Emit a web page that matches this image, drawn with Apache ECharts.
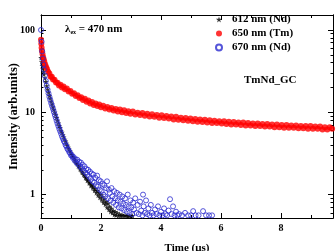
<!DOCTYPE html>
<html>
<head>
<meta charset="utf-8">
<script src="https://cdn.jsdelivr.net/npm/echarts@6/dist/echarts.min.js"></script>
<style>
    html, body { margin: 0; padding: 0; background: #fff; }
    #chart { width: 336px; height: 251px; }
</style>
</head>
<body>
<div id="chart"></div>
<script>
// decay curves, [time (us), intensity]
var nd612 = [
    [0, 46], [0.02, 41], [0.04, 37], [0.06, 34], [0.08, 31.5], [0.1, 29], [0.13, 26], [0.16, 23.5],
    [0.19, 21], [0.22, 19], [0.25, 17.5], [0.28, 16], [0.31, 14.8], [0.34, 13.6], [0.37, 12.6], [0.4, 11.6],
    [0.43, 10.8], [0.46, 10], [0.49, 9.3], [0.52, 8.6], [0.55, 8], [0.58, 7.4], [0.61, 6.9], [0.64, 6.5],
    [0.67, 6.0], [0.7, 5.7], [0.73, 5.3], [0.76, 5.0], [0.79, 4.7], [0.82, 4.45], [0.85, 4.2], [0.88, 3.95],
    [0.91, 3.75], [0.94, 3.55], [0.97, 3.4], [1.0, 3.2], [1.03, 3.05], [1.06, 2.9], [1.09, 2.8], [1.12, 2.65],
    [1.15, 2.55], [1.18, 2.42], [1.21, 2.35], [1.24, 2.22], [1.27, 2.18], [1.3, 2.05], [1.33, 2.0], [1.36, 1.88],
    [1.39, 1.86], [1.42, 1.74], [1.45, 1.72], [1.48, 1.6], [1.51, 1.6], [1.54, 1.48], [1.57, 1.5], [1.6, 1.38],
    [1.63, 1.4], [1.66, 1.28], [1.69, 1.32], [1.72, 1.2], [1.75, 1.26], [1.78, 1.12], [1.81, 1.18], [1.84, 1.05],
    [1.87, 1.12], [1.9, 0.98], [1.93, 1.06], [1.96, 0.92], [1.99, 1.0], [2.02, 0.86], [2.05, 0.94], [2.08, 0.8],
    [2.11, 0.88], [2.14, 0.76], [2.17, 0.82], [2.2, 0.7], [2.23, 0.78], [2.26, 0.66], [2.29, 0.72], [2.32, 0.62],
    [2.35, 0.68], [2.38, 0.6], [2.41, 0.64], [2.44, 0.57], [2.47, 0.62], [2.5, 0.56], [2.54, 0.6], [2.58, 0.55],
    [2.62, 0.58], [2.66, 0.55], [2.7, 0.57], [2.75, 0.55], [2.8, 0.56], [2.85, 0.55], [2.9, 0.55], [2.95, 0.55],
    [3.0, 0.55], [3.05, 0.55]
];

var tm650 = [
    [0, 76], [0.01, 68], [0.02, 61], [0.03, 56], [0.05, 51], [0.07, 47], [0.09, 44], [0.11, 41],
    [0.14, 38], [0.17, 35.5], [0.2, 33.5], [0.24, 31], [0.28, 29.5], [0.32, 27], [0.36, 27], [0.4, 25],
    [0.45, 24.8], [0.5, 23], [0.55, 22.8], [0.6, 21.2], [0.65, 21.6], [0.7, 20], [0.75, 20.6], [0.8, 19],
    [0.86, 19.4], [0.92, 17.9], [0.98, 18.2], [1.04, 16.8], [1.1, 17], [1.16, 15.8], [1.22, 16.1], [1.28, 14.9],
    [1.34, 15.2], [1.4, 14.1], [1.46, 14.6], [1.52, 13.4], [1.58, 13.9], [1.64, 12.8], [1.7, 13.3], [1.76, 12.3],
    [1.82, 12.8], [1.88, 11.9], [1.94, 12.4], [2.0, 11.5], [2.07, 12.0], [2.14, 11.1], [2.21, 11.6], [2.28, 10.8],
    [2.35, 11.3], [2.42, 10.5], [2.49, 11.0], [2.56, 10.2], [2.63, 10.8], [2.7, 10.0], [2.77, 10.6], [2.84, 9.8],
    [2.91, 10.3], [2.98, 9.6], [3.06, 10.2], [3.14, 9.4], [3.22, 9.9], [3.3, 9.3], [3.38, 9.8], [3.46, 9.1],
    [3.54, 9.6], [3.62, 8.9], [3.7, 9.5], [3.78, 8.8], [3.86, 9.3], [3.94, 8.6], [4.02, 9.2], [4.1, 8.5],
    [4.18, 9.0], [4.26, 8.4], [4.34, 8.9], [4.42, 8.2], [4.5, 8.8], [4.58, 8.1], [4.66, 8.6], [4.74, 8.0],
    [4.82, 8.5], [4.9, 7.9], [4.98, 8.4], [5.06, 7.8], [5.14, 8.3], [5.22, 7.7], [5.3, 8.2], [5.38, 7.6],
    [5.46, 8.1], [5.54, 7.5], [5.62, 8.0], [5.7, 7.4], [5.78, 7.9], [5.86, 7.4], [5.94, 7.8], [6.02, 7.3],
    [6.1, 7.8], [6.18, 7.2], [6.26, 7.7], [6.34, 7.1], [6.42, 7.6], [6.5, 7.1], [6.58, 7.5], [6.66, 7.0],
    [6.74, 7.5], [6.82, 6.9], [6.9, 7.4], [6.98, 6.9], [7.06, 7.3], [7.14, 6.8], [7.22, 7.3], [7.3, 6.8],
    [7.38, 7.2], [7.46, 6.7], [7.54, 7.2], [7.62, 6.7], [7.7, 7.1], [7.78, 6.6], [7.86, 7.1], [7.94, 6.6],
    [8.02, 7.0], [8.1, 6.5], [8.18, 7.0], [8.26, 6.5], [8.34, 6.9], [8.42, 6.5], [8.5, 6.9], [8.58, 6.4],
    [8.66, 6.8], [8.74, 6.4], [8.82, 6.8], [8.9, 6.3], [8.98, 6.8], [9.06, 6.3], [9.14, 6.7], [9.22, 6.3],
    [9.3, 6.7], [9.38, 6.2], [9.46, 6.6], [9.54, 6.2], [9.62, 6.6], [9.7, 6.3]
];

var nd670 = [
    [0, 100], [0.02, 72], [0.04, 55], [0.06, 45], [0.08, 38], [0.1, 33], [0.13, 28], [0.16, 24],
    [0.19, 21], [0.22, 18.8], [0.25, 17], [0.28, 15.4], [0.31, 14.1], [0.34, 12.9], [0.37, 11.9], [0.4, 11],
    [0.43, 10.1], [0.46, 9.3], [0.49, 8.6], [0.52, 7.9], [0.55, 7.3], [0.58, 6.8], [0.61, 6.3], [0.64, 5.9],
    [0.67, 5.5], [0.7, 5.1], [0.73, 4.8], [0.76, 4.5], [0.79, 4.3], [0.82, 4.0], [0.85, 3.85], [0.88, 3.6],
    [0.91, 3.5], [0.94, 3.3], [0.97, 3.2], [1.0, 3.0], [1.03, 3.0], [1.06, 2.8], [1.09, 2.85], [1.12, 2.6],
    [1.15, 2.7], [1.18, 2.45], [1.21, 2.65], [1.24, 2.35], [1.27, 2.5], [1.3, 2.2], [1.33, 2.45], [1.36, 2.1],
    [1.39, 2.3], [1.42, 1.95], [1.45, 2.2], [1.48, 1.85], [1.51, 2.05], [1.54, 1.75], [1.57, 2.0], [1.6, 1.65],
    [1.63, 1.9], [1.66, 1.55], [1.69, 1.8], [1.72, 1.45], [1.75, 1.75], [1.78, 1.4], [1.81, 1.6], [1.84, 1.3],
    [1.87, 1.7], [1.9, 1.25], [1.93, 1.5], [1.96, 1.15], [1.99, 1.45], [2.02, 1.1], [2.05, 1.35], [2.08, 1.0],
    [2.11, 1.3], [2.14, 0.95], [2.17, 1.2], [2.2, 1.45], [2.23, 0.9], [2.26, 1.15], [2.29, 1.05], [2.32, 0.85],
    [2.35, 1.2], [2.38, 0.95], [2.41, 0.8], [2.44, 1.1], [2.47, 0.9], [2.5, 0.75], [2.53, 1.05], [2.56, 0.85],
    [2.59, 0.7], [2.62, 1.0], [2.65, 0.82], [2.68, 0.68], [2.71, 0.95], [2.74, 0.78], [2.77, 0.65], [2.8, 0.9],
    [2.83, 0.75], [2.86, 0.62], [2.89, 1.0], [2.92, 0.72], [2.95, 0.6], [2.98, 0.85], [3.01, 0.7], [3.04, 0.58],
    [3.07, 0.8], [3.1, 0.66], [3.14, 0.9], [3.18, 0.6], [3.22, 0.75], [3.26, 0.58], [3.3, 0.82], [3.34, 0.64],
    [3.38, 0.56], [3.4, 1.0], [3.42, 0.72], [3.46, 0.6], [3.5, 0.85], [3.54, 0.58], [3.58, 0.68], [3.62, 0.56],
    [3.66, 0.75], [3.7, 0.6], [3.75, 0.56], [3.8, 0.66], [3.85, 0.58], [3.9, 0.72], [3.95, 0.56], [4.0, 0.62],
    [4.05, 0.56], [4.1, 0.68], [4.15, 0.58], [4.2, 0.56], [4.25, 0.64], [4.3, 0.88], [4.35, 0.58], [4.4, 0.72],
    [4.45, 0.56], [4.5, 0.62], [4.55, 0.56], [4.6, 0.58], [4.7, 0.56], [4.8, 0.6], [4.9, 0.56], [5.0, 0.56],
    [5.07, 0.63], [5.15, 0.56], [5.25, 0.56], [5.4, 0.63], [5.5, 0.56], [5.6, 0.56], [5.7, 0.56]
];

var seriesNames = ["612 nm (Nd)", "650 nm (Tm)", "670 nm (Nd)"];
var xLabels = [0, 2, 4, 6, 8];
var yLabels = [1, 10, 100];
var yMinorTicks = [0.6, 0.7, 0.8, 0.9, 2, 3, 4, 5, 6, 7, 8, 9, 20, 30, 40, 50, 60, 70, 80, 90];

var starPath = "path://M50,0 L61,35 L98,35 L68,57 L79,91 L50,70 L21,91 L32,57 L2,35 L39,35 Z";
var font = "Liberation Serif";

function yAxis(pos, labels, minor) {
    return {
        type: "log",
        position: pos,
        offset: 0,
        min: 0.52,
        max: 152,
        logBase: 10,
        axisLine: { show: true, lineStyle: { color: "#000", width: 1 } },
        axisTick: {
            show: true,
            inside: true,
            length: minor ? 2.5 : 5,
            customValues: minor ? yMinorTicks : yLabels,
            lineStyle: { color: "#000" },
        },
        axisLabel: {
            show: labels,
            customValues: yLabels,
            margin: 6,
            color: "#000",
            fontFamily: font,
            fontWeight: "bold",
            fontSize: 10,
        },
        splitLine: { show: false },
        name: labels ? "Intensity (arb.units)" : "",
        nameLocation: "middle",
        nameGap: 21,
        nameMoveOverlap: false,
        nameTextStyle: { color: "#000", fontFamily: font, fontWeight: "bold", fontSize: 12.5 },
    };
}

function xAxis(pos, labels) {
    return {
        type: "value",
        position: pos,
        min: 0,
        max: 9.73,
        interval: 2,
        axisLine: { show: true, onZero: false, lineStyle: { color: "#000", width: 1 } },
        axisTick: { show: true, inside: true, length: 5, customValues: xLabels, lineStyle: { color: "#000" } },
        minorTick: { show: true, splitNumber: 2, length: 3, lineStyle: { color: "#000" } },
        axisLabel: {
            show: labels,
            customValues: xLabels,
            margin: 5,
            color: "#000",
            fontFamily: font,
            fontWeight: "bold",
            fontSize: 10,
        },
        splitLine: { show: false },
        name: labels ? "Time (\u03bcs)" : "",
        nameLocation: "middle",
        nameGap: 25,
        nameMoveOverlap: false,
        nameTextStyle: { color: "#000", fontFamily: font, fontWeight: "bold", fontSize: 11 },
    };
}

var myChart = echarts.init(document.getElementById("chart"), null, { renderer: "canvas" });
var option = {
    animation: false,
    backgroundColor: "#fff",
    grid: { left: 41, top: 15, right: 3, bottom: 33, containLabel: false, outerBoundsMode: "none" },
    xAxis: [xAxis("bottom", true), xAxis("top", false)],
    yAxis: [yAxis("left", true, false), yAxis("left", false, true), yAxis("right", false, false), yAxis("right", false, true)],
    legend: {
        orient: "vertical",
        left: 210,
        top: 9,
        itemWidth: 16,
        itemHeight: 6,
        itemGap: 3,
        textStyle: { color: "#000", fontFamily: font, fontWeight: "bold", fontSize: 11, lineHeight: 11 },
        data: [
            { name: seriesNames[0], icon: starPath },
            { name: seriesNames[1], icon: "circle" },
            { name: seriesNames[2], icon: "circle" },
        ],
    },
    graphic: [
        {
            type: "text",
            left: 65,
            top: 24,
            style: {
                text: "{a|\u03bb}{s|ex}{a| = 470 nm}",
                rich: {
                    a: { fontFamily: font, fontWeight: "bold", fontSize: 11, fill: "#000" },
                    s: { fontFamily: font, fontWeight: "bold", fontSize: 6, fill: "#000", padding: [6, 0, 0, 0] },
                },
            },
        },
        {
            type: "text",
            left: 244,
            top: 75,
            style: { text: "TmNd_GC", fontFamily: font, fontWeight: "bold", fontSize: 11, fill: "#000" },
        },
    ],
    series: [
        {
            name: seriesNames[0],
            type: "scatter",
            data: nd612,
            symbol: starPath,
            symbolSize: 5.5,
            itemStyle: { color: "#000" },
        },
        {
            name: seriesNames[1],
            type: "scatter",
            data: tm650,
            symbolSize: 6,
            itemStyle: { color: "#ff0000" },
        },
        {
            name: seriesNames[2],
            type: "scatter",
            data: nd670,
            symbol: "circle",
            symbolSize: 5,
            itemStyle: { color: "rgba(255,255,255,0)", borderColor: "#2a2ad0", borderWidth: 1 },
        },
    ],
};
myChart.setOption(option);
</script>
</body>
</html>
